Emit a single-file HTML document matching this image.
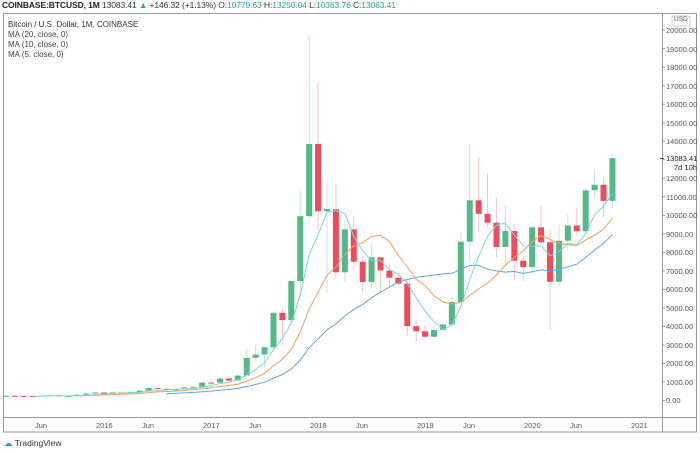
<!DOCTYPE html>
<html><head><meta charset="utf-8">
<style>
html,body{margin:0;padding:0;background:#fff;}
body{width:700px;height:453px;position:relative;overflow:hidden;font-family:"Liberation Sans",sans-serif;color:#333;}
.hdr{position:absolute;left:2px;top:0px;font-size:8.5px;white-space:nowrap;letter-spacing:-0.1px}
.hdr b{color:#222}
.g{color:#26a69a}
.leg{position:absolute;left:8px;top:20px;font-size:8px;line-height:10px;color:#444}
.ax{position:absolute;font-size:7.5px;color:#555;white-space:nowrap}
.tv{position:absolute;left:4px;top:438px;font-size:8.5px;color:#333}
</style></head><body>
<div class="hdr"><b>COINBASE:BTCUSD, 1M</b> 13083.41 <span class="g">▲</span> +146.32 (+1.13%) O:<span class="g">10779.63</span> H:<span class="g">13250.04</span> L:<span class="g">10363.76</span> C:<span class="g">13083.41</span></div>
<svg id="s" width="700" height="453" style="position:absolute;left:0;top:0">
<rect x="3.5" y="13.5" width="693" height="418.5" fill="none" stroke="#999" stroke-width="1"/>
<line x1="662.5" y1="13" x2="662.5" y2="432" stroke="#999"/>
<line x1="3" y1="417.5" x2="697" y2="417.5" stroke="#999"/>
<rect x="672" y="16" width="18" height="10" rx="2" fill="#fff" stroke="#ccc"/>
<g id="c"></g>
</svg>
<div class="leg"><b style="font-weight:normal;color:#333">Bitcoin / U.S. Dollar, 1M, COINBASE</b><br>MA (20, close, 0)<br>MA (10, close, 0)<br>MA (5, close, 0)</div>
<div class="ax" style="left:674px;top:16px;font-size:6.5px">USD</div>
<div id="yl">
<div class="ax" style="left:666px;top:26px">20000.00</div>
<div class="ax" style="left:666px;top:45px">19000.00</div>
<div class="ax" style="left:666px;top:63px">18000.00</div>
<div class="ax" style="left:666px;top:82px">17000.00</div>
<div class="ax" style="left:666px;top:100px">16000.00</div>
<div class="ax" style="left:666px;top:119px">15000.00</div>
<div class="ax" style="left:666px;top:137px">14000.00</div>
<div class="ax" style="left:666px;top:154px;color:#222">13083.41</div>
<div class="ax" style="left:674px;top:163px;color:#222">7d 10h</div>
<div class="ax" style="left:666px;top:174px">12000.00</div>
<div class="ax" style="left:666px;top:193px">11000.00</div>
<div class="ax" style="left:666px;top:211px">10000.00</div>
<div class="ax" style="left:666px;top:230px">9000.00</div>
<div class="ax" style="left:666px;top:248px">8000.00</div>
<div class="ax" style="left:666px;top:267px">7000.00</div>
<div class="ax" style="left:666px;top:285px">6000.00</div>
<div class="ax" style="left:666px;top:304px">5000.00</div>
<div class="ax" style="left:666px;top:322px">4000.00</div>
<div class="ax" style="left:666px;top:341px">3000.00</div>
<div class="ax" style="left:666px;top:359px">2000.00</div>
<div class="ax" style="left:666px;top:378px">1000.00</div>
<div class="ax" style="left:666px;top:396px">0.00</div>
</div>
<div class="ax" style="left:35px;top:421px">Jun</div>
<div class="ax" style="left:96px;top:421px">2016</div>
<div class="ax" style="left:142px;top:421px">Jun</div>
<div class="ax" style="left:203px;top:421px">2017</div>
<div class="ax" style="left:249px;top:421px">Jun</div>
<div class="ax" style="left:310px;top:421px">2018</div>
<div class="ax" style="left:356px;top:421px">Jun</div>
<div class="ax" style="left:417px;top:421px">2019</div>
<div class="ax" style="left:463px;top:421px">Jun</div>
<div class="ax" style="left:524px;top:421px">2020</div>
<div class="ax" style="left:570px;top:421px">Jun</div>
<div class="ax" style="left:631px;top:421px">2021</div>
<div class="tv"><span style="color:#2196f3">☁</span> TradingView</div>
<script>
var D=[[320,320,170,217],[217,265,200,255],[255,300,235,244],[244,260,215,236],[236,250,225,230],[230,270,215,263],[263,315,255,284],[284,285,195,230],[230,245,225,236],[236,330,235,314],[314,500,300,377],[377,470,350,430],
[430,460,355,368],[368,440,365,437],[437,440,395,416],[416,470,410,448],[448,550,440,531],[531,780,520,673],[673,700,600,624],[624,625,470,575],[575,610,590,609],[609,740,600,700],[700,750,690,742],[742,980,740,968],
[968,1150,750,965],[965,1200,910,1190],[1190,1350,890,1080],[1080,1350,1080,1350],[1350,2790,1350,2300],[2300,3000,2100,2480],[2480,2900,1830,2875],[2875,4800,2700,4735],[4735,4980,2970,4340],[4340,6450,4100,6450],[6450,11400,5500,9950],[9950,19800,9500,13850],
[13850,17200,9200,10220],[10220,11780,5800,10330],[10330,11700,6600,6925],[6925,9760,6430,9240],[9240,10000,7040,7495],[7495,7770,5775,6400],[6400,8500,6070,7730],[7730,7760,5880,7020],[7020,7400,6100,6630],[6630,6800,6200,6310],[6310,6570,3500,4015],[4015,4320,3140,3740],
[3740,4100,3370,3440],[3440,4200,3370,3810],[3810,4200,3700,4100],[4100,5620,4070,5320],[5320,9100,5330,8575],[8575,13880,7500,10810],[10810,13150,9100,10080],[10080,12300,9400,9600],[9600,10950,7750,8290],[8290,10500,7300,9150],[9150,9500,6520,7550],[7550,7750,6440,7200],
[7200,9580,6850,9350],[9350,10500,8450,8545],[8545,9200,3850,6410],[6410,9480,6160,8630],[8630,10080,8110,9450],[9450,10380,8900,9140],[9140,11450,8980,11350],[11350,12470,10950,11650],[11650,12070,9880,10780],[10780,13250,10364,13083]];
function X(m){return 104+(m-12)*8.92}
function Y(v){return 400.5-v*0.01852}
var h='';
D.forEach(function(d,i){var x=X(i),up=d[3]>=d[0];var col=up?'#53b987':'#eb4d5c',wc=up?'#c9e3dc':'#f2c4cb';
h+='<line x1="'+x+'" x2="'+x+'" y1="'+Y(d[1])+'" y2="'+Y(d[2])+'" stroke="'+wc+'" stroke-width="1"/>';
var t=Y(Math.max(d[0],d[3])),b=Y(Math.min(d[0],d[3]));if(b-t<1)b=t+1;
h+='<rect x="'+(x-3)+'" y="'+t+'" width="6" height="'+(b-t)+'" fill="'+col+'"/>';});
function ma(n,c){var p='';for(var i=n-1;i<D.length;i++){var s=0;for(var j=i-n+1;j<=i;j++)s+=D[j][3];p+=(p?'L':'M')+X(i).toFixed(1)+' '+Y(s/n).toFixed(1);}
return '<path d="'+p+'" fill="none" stroke="'+c+'" stroke-width="1"/>';}
h+=ma(20,'#5aa7e0')+ma(10,'#f0a05a')+ma(5,'#7dd6dc');
h+='<line x1="660" x2="664" y1="158.5" y2="158.5" stroke="#555"/>';
for(var v=0;v<=20000;v+=1000){h+='<line x1="662" x2="665" y1="'+Y(v)+'" y2="'+Y(v)+'" stroke="#999"/>';}
document.getElementById('c').innerHTML=h;
</script>
</body></html>
